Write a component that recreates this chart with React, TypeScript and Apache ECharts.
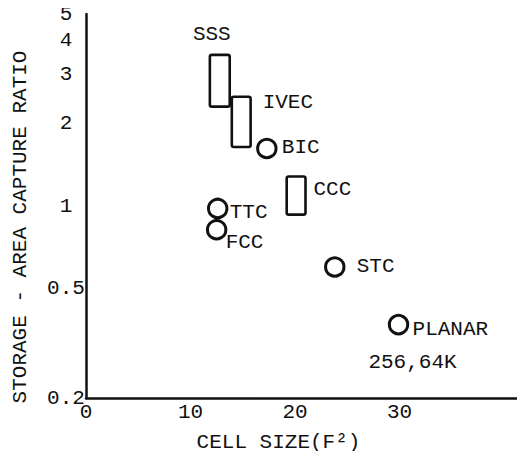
import React, { useEffect, useRef } from "react";
import * as echarts from "echarts";

// ---- data ----
const yTickValues = [0.2, 0.5, 1, 2, 3, 4, 5];
const xTickValues = [0, 10, 20, 30];

const rectNames = ["SSS", "IVEC", "CCC"];
const rectXMin = [11.85, 13.95, 19.2];
const rectXMax = [13.75, 15.75, 21.0];
const rectYMin = [2.3, 1.64, 0.93];
const rectYMax = [3.55, 2.5, 1.28];

const circleNames = ["BIC", "TTC", "FCC", "STC", "PLANAR"];
const circleX = [17.3, 12.6, 12.5, 23.8, 29.9];
const circleY = [1.62, 0.98, 0.82, 0.6, 0.37];
const circleNotes = ["", "", "", "", "256,64K"];

// ---- label layout (pixel offsets, styling only) ----
const rectLabelLayout = [
  { anchor: "top", dx: -8, dy: -20, align: "center" },
  { anchor: "right", dx: 12, dy: 6, align: "left" },
  { anchor: "right", dx: 8, dy: 13, align: "left" },
];
const circleLabelLayout = [
  { dx: 15, dy: -1 },
  { dx: 12, dy: 4 },
  { dx: 9, dy: 13 },
  { dx: 22, dy: 0 },
  { dx: 14, dy: 5 },
];
const noteLayout = { dx: 14, dy: 38 };

const FONT = "'Liberation Mono', 'DejaVu Sans Mono', monospace";
const FS = 21;
const INK = "#111";

export default function App() {
  const ref = useRef<HTMLDivElement>(null);
  useEffect(() => {
    if (!ref.current) return;
    const chart = echarts.init(ref.current, undefined, { renderer: "svg" });
    const textFont = `${FS}px ${FONT}`;

    const rectData = rectNames.map((n, i) => ({
      name: n,
      value: [rectXMin[i], rectXMax[i], rectYMin[i], rectYMax[i]],
    }));
    const circleData = circleNames.map((n, i) => ({
      name: n,
      value: [circleX[i], circleY[i]],
    }));

    chart.setOption({
      animation: false,
      backgroundColor: "#fff",
      grid: {
        left: 86,
        right: 0,
        top: 14,
        bottom: 61,
        containLabel: false,
        outerBoundsMode: "none",
      },
      xAxis: {
        type: "value",
        min: 0,
        max: 42,
        interval: 10,
        name: "CELL SIZE(F²)",
        nameLocation: "middle",
        nameGap: 34,
        nameTextStyle: {
          fontFamily: FONT,
          fontSize: FS,
          color: INK,
          padding: [0, 54, 0, 0],
        },
        axisLine: { show: true, lineStyle: { color: INK, width: 2.5 } },
        axisTick: { show: false },
        splitLine: { show: false },
        axisLabel: {
          customValues: xTickValues,
          fontFamily: FONT,
          fontSize: FS,
          color: INK,
          margin: 4,
        },
      },
      yAxis: {
        type: "log",
        logBase: 10,
        min: 0.2,
        max: 5,
        name: "STORAGE - AREA CAPTURE RATIO",
        nameLocation: "middle",
        nameRotate: 90,
        nameGap: 55,
        nameTextStyle: {
          fontFamily: FONT,
          fontSize: FS,
          color: INK,
          padding: [0, 42, 0, 0],
        },
        axisLine: { show: true, lineStyle: { color: INK, width: 2.5 } },
        axisTick: { show: false },
        splitLine: { show: false },
        axisLabel: {
          customValues: yTickValues,
          formatter: (v: number) => String(v),
          fontFamily: FONT,
          fontSize: FS,
          color: INK,
          align: "center",
          margin: 20,
        },
      },
      series: [
        {
          type: "custom",
          name: "ranges",
          data: rectData,
          clip: false,
          renderItem: (params: any, api: any) => {
            const i = params.dataIndex;
            const tl = api.coord([api.value(0), api.value(3)]);
            const br = api.coord([api.value(1), api.value(2)]);
            const lay = rectLabelLayout[i];
            let tx: number, ty: number;
            if (lay.anchor === "top") {
              tx = (tl[0] + br[0]) / 2 + lay.dx;
              ty = tl[1] + lay.dy;
            } else {
              tx = br[0] + lay.dx;
              ty = tl[1] + lay.dy;
            }
            return {
              type: "group",
              children: [
                {
                  type: "rect",
                  shape: {
                    x: tl[0],
                    y: tl[1],
                    width: br[0] - tl[0],
                    height: br[1] - tl[1],
                    r: 2,
                  },
                  style: { fill: "#fff", stroke: INK, lineWidth: 2.6 },
                },
                {
                  type: "text",
                  x: tx,
                  y: ty,
                  style: {
                    text: rectNames[i],
                    font: textFont,
                    fill: INK,
                    align: lay.align,
                    verticalAlign: "middle",
                  },
                },
              ],
            };
          },
        },
        {
          type: "custom",
          name: "points",
          data: circleData,
          clip: false,
          renderItem: (params: any, api: any) => {
            const i = params.dataIndex;
            const c = api.coord([api.value(0), api.value(1)]);
            const lay = circleLabelLayout[i];
            const children: any[] = [
              {
                type: "circle",
                shape: { cx: c[0], cy: c[1], r: 9.2 },
                style: { fill: "none", stroke: INK, lineWidth: 3 },
              },
              {
                type: "text",
                x: c[0] + lay.dx,
                y: c[1] + lay.dy,
                style: {
                  text: circleNames[i],
                  font: textFont,
                  fill: INK,
                  align: "left",
                  verticalAlign: "middle",
                },
              },
            ];
            if (circleNotes[i]) {
              children.push({
                type: "text",
                x: c[0] + noteLayout.dx,
                y: c[1] + noteLayout.dy,
                style: {
                  text: circleNotes[i],
                  font: textFont,
                  fill: INK,
                  align: "center",
                  verticalAlign: "middle",
                },
              });
            }
            return { type: "group", children };
          },
        },
      ],
    });
    return () => chart.dispose();
  }, []);
  return <div ref={ref} style={{ width: 525, height: 459, margin: -8 }} />;
}
